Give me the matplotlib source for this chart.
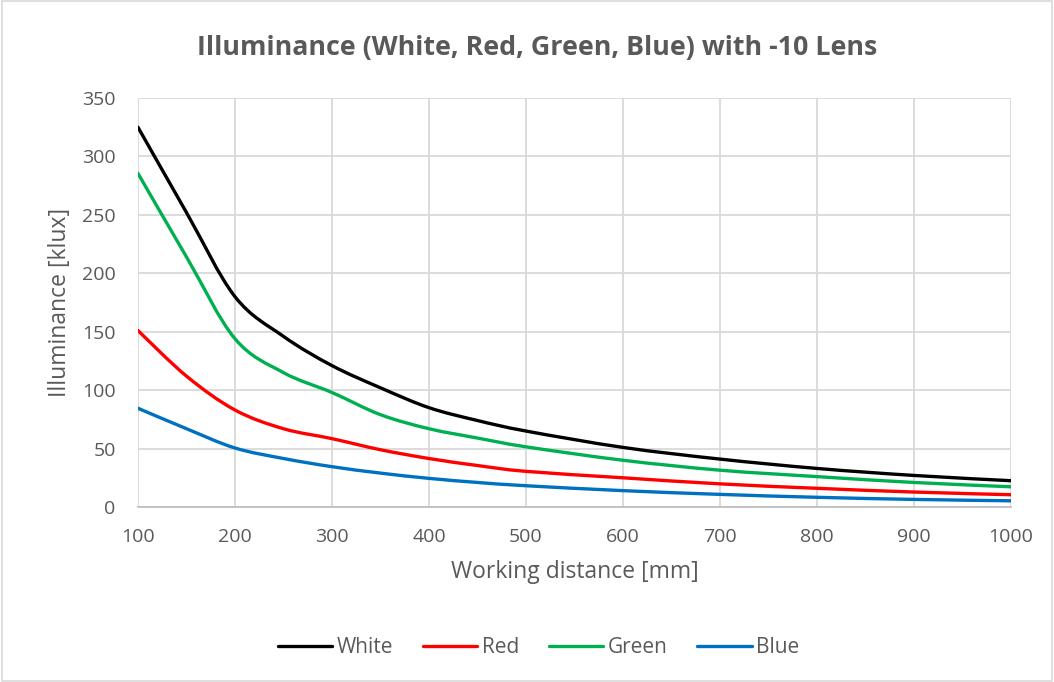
import matplotlib.pyplot as plt
import numpy as np
from matplotlib.path import Path
from matplotlib.patches import PathPatch, Rectangle
from matplotlib.lines import Line2D

DISTANCE = [100, 150, 200, 250, 300, 350, 400, 450, 500, 600, 700, 800, 900, 1000]
WHITE = [325, 252, 180, 146, 121, 102, 85, 74, 65, 51, 41, 33, 27, 22.5]
RED = [151, 112, 83, 67, 58.5, 49, 41.5, 35.5, 30.5, 25, 19.8, 16, 12.8, 10.5]
GREEN = [285.5, 214, 144, 115, 98, 79, 67, 59, 51.5, 40, 31.5, 26, 21, 17.3]
BLUE = [84.5, 67, 50.5, 41.5, 34.5, 29, 24.5, 21, 18.2, 14, 10.8, 8.3, 6.5, 5.3]

SERIES = [('White', WHITE, '#000000'), ('Red', RED, '#FF0000'),
          ('Green', GREEN, '#00B050'), ('Blue', BLUE, '#0070C0')]

TEXT_COLOUR = '#595959'
GRID_COLOUR = '#D9D9D9'
FONT = 'Open Sans'


def smooth_path(xs, ys):
    # excel-like smoothed line: cubic bezier through every point
    pts = np.column_stack([xs, ys]).astype(float)
    verts = [pts[0]]
    codes = [Path.MOVETO]
    n = len(pts)
    for i in range(n - 1):
        p0 = pts[max(i - 1, 0)]
        p1 = pts[i]
        p2 = pts[i + 1]
        p3 = pts[min(i + 2, n - 1)]
        c1 = p1 + (p2 - p0) / 6.0
        c2 = p2 - (p3 - p1) / 6.0
        verts += [c1, c2, p2]
        codes += [Path.CURVE4] * 3
    return Path(verts, codes)


fig = plt.figure(figsize=(10.54, 6.82), dpi=100)
fig.patches.append(Rectangle((0.002, 0.002), 0.996, 0.996, transform=fig.transFigure,
                             fill=False, edgecolor=GRID_COLOUR, linewidth=1.2))
ax = fig.add_axes([0.1309, 0.2566, 0.8283, 0.5997])

for name, values, colour in SERIES:
    ax.add_patch(PathPatch(smooth_path(DISTANCE, values), facecolor='none',
                           edgecolor=colour, linewidth=2.4, capstyle='round', zorder=3))

ax.set_xlim(100, 1000)
ax.set_ylim(0, 350)
ax.set_xticks(range(100, 1001, 100))
ax.set_yticks(range(0, 351, 50))
ax.grid(True, color=GRID_COLOUR, linewidth=1.3)
ax.set_axisbelow(True)
for side in ['top', 'right', 'left']:
    ax.spines[side].set_visible(False)
ax.spines['bottom'].set_color('#BFBFBF')
ax.spines['bottom'].set_linewidth(1.3)
ax.tick_params(length=0, labelsize=14, labelcolor=TEXT_COLOUR)
ax.tick_params(axis='x', pad=15)
ax.tick_params(axis='y', pad=16)
for lab in ax.get_xticklabels() + ax.get_yticklabels():
    lab.set_fontfamily(FONT)

ax.set_xlabel('Working distance [mm]', fontsize=16.5, color=TEXT_COLOUR, family=FONT, labelpad=10)
ax.set_ylabel('Illuminance [klux]', fontsize=16.5, color=TEXT_COLOUR, family=FONT, labelpad=7)
fig.text(0.51, 0.93, 'Illuminance (White, Red, Green, Blue) with -10 Lens', ha='center', va='center',
         fontsize=19.3, fontweight='bold', color=TEXT_COLOUR, family=FONT)

handles = [Line2D([], [], color=c, linewidth=2.4, solid_capstyle='round') for _, _, c in SERIES]
fig.legend(handles, [s[0] for s in SERIES], loc='center', bbox_to_anchor=(0.511, 0.05), ncol=4,
           frameon=False, handlelength=2.6, handletextpad=0.2, columnspacing=1.45,
           prop={'family': FONT, 'size': 15}, labelcolor=TEXT_COLOUR)

fig.savefig('out.png', dpi=100)
